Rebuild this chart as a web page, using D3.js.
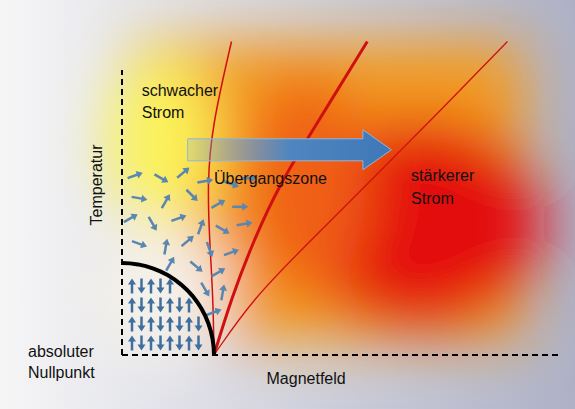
<!DOCTYPE html>
<html><head><meta charset="utf-8">
<script src="https://cdn.jsdelivr.net/npm/d3@7"></script>
<style>body{margin:0}svg{display:block}text{font-family:"Liberation Sans",Arial,sans-serif;font-size:16px;fill:#111}</style>
</head><body><svg id="c" width="575" height="409"></svg>
<script>
// phase boundary curves, [field, temperature] (field 0..10, temperature 0..10)
var curveInner = [[2.1,0],[2.08,2],[2.0,4],[1.95,6],[2.05,8],[2.5,11]];
var curveThick = [[2.1,0],[2.5,2],[3.0,4],[3.6,6],[4.4,8],[5.6,11]];
var curveOuter = [[2.1,0],[3.0,2],[4.3,4],[5.6,6],[6.9,8],[8.8,11]];
var arcPts = d3.range(0,91,5); // degrees of the superconducting boundary
// disordered spins: [field, temperature, angle deg]
var spins = [[0.3,6.3,20],[0.9,6.2,-30],[1.4,6.4,40],[1.9,6.1,10],[2.5,6.0,-20],[2.9,6.2,0],
 [0.4,5.5,-10],[1.0,5.4,60],[1.6,5.6,-45],[2.2,5.3,30],[2.7,5.2,0],
 [0.2,4.8,30],[0.7,4.6,-60],[1.3,4.8,20],[1.8,4.5,70],[2.3,4.4,-30],[2.8,4.6,10],
 [0.4,3.9,-20],[1.0,3.8,80],[1.5,4.0,40],[2.0,3.7,-70],[2.5,3.6,20],
 [1.1,3.2,60],[1.7,3.1,-40],[2.2,2.9,30],[1.9,2.3,-60],[2.3,2.2,80],[2.1,1.5,20]];
var labels = [["schwacher",0.45,9.1],["Strom",0.45,8.3],["Übergangszone",2.1,6.0],
 ["stärkerer",6.6,6.1],["Strom",6.6,5.3]];

var svg = d3.select("#c");
var x = d3.scaleLinear().domain([0,10]).range([122,560]);
var y = d3.scaleLinear().domain([0,10]).range([355,70]);
var defs = svg.append("defs");
var bg = defs.append("linearGradient").attr("id","bg");
bg.append("stop").attr("offset",0).attr("stop-color","#f6f6f7");
bg.append("stop").attr("offset",1).attr("stop-color","#aeb1c6");
defs.append("filter").attr("id","b1").attr("filterUnits","userSpaceOnUse")
 .attr("x",-100).attr("y",-100).attr("width",800).attr("height",600)
 .append("feGaussianBlur").attr("stdDeviation",28);
var ag = defs.append("linearGradient").attr("id","ag");
ag.append("stop").attr("offset",0).attr("stop-color","#7fb0dc").attr("stop-opacity",0.2);
ag.append("stop").attr("offset",0.5).attr("stop-color","#4f86c0");
ag.append("stop").attr("offset",1).attr("stop-color","#3f78b8");

svg.append("rect").attr("width",575).attr("height",409).attr("fill","url(#bg)");
var heat = svg.append("g").attr("filter","url(#b1)");
heat.append("rect").attr("x",x(0.2)).attr("y",y(11)).attr("width",x(9.2)-x(0.2)).attr("height",y(0.5)-y(11)).attr("fill","#f39a1e");
heat.append("ellipse").attr("cx",x(0.9)).attr("cy",y(7.5)).attr("rx",55).attr("ry",90).attr("fill","#fbf25a");
heat.append("ellipse").attr("cx",x(6.8)).attr("cy",y(4.6)).attr("rx",125).attr("ry",105).attr("fill","#e41010");
heat.append("ellipse").attr("cx",x(4.2)).attr("cy",y(6)).attr("rx",60).attr("ry",110).attr("fill","#f06018");
heat.append("ellipse").attr("cx",x(0.8)).attr("cy",y(2.2)).attr("rx",70).attr("ry",70).attr("fill","#f4f1ea");

var line = d3.line().x(d=>x(d[0])).y(d=>y(d[1])).curve(d3.curveBasis);
[[curveInner,1.5],[curveThick,3],[curveOuter,1.3]].forEach(function(c){
 svg.append("path").attr("d",line(c[0])).attr("fill","none").attr("stroke","#d01010").attr("stroke-width",c[1]);});

function arrow(g,cx,cy,ang,len,col){
 var a=ang*Math.PI/180, dx=Math.cos(a)*len/2, dy=-Math.sin(a)*len/2;
 var h=4, ux=Math.cos(a), uy=-Math.sin(a);
 g.append("line").attr("x1",cx-dx).attr("y1",cy-dy).attr("x2",cx+dx-ux*3).attr("y2",cy+dy-uy*3).attr("stroke",col).attr("stroke-width",2.5);
 var tx=cx+dx, ty=cy+dy;
 g.append("path").attr("d","M"+tx+","+ty+"L"+(tx-ux*6-uy*h)+","+(ty-uy*6+ux*h)+"L"+(tx-ux*6+uy*h)+","+(ty-uy*6-ux*h)+"Z").attr("fill",col);
}
var sg = svg.append("g");
spins.forEach(function(s){arrow(sg,x(s[0]),y(s[1]),s[2],16,"#5a86b0");});
// ordered spins inside quarter circle
var R = x(2.1)-x(0);
var cols = d3.range(0,9), rows = d3.range(0,4);
cols.forEach(function(i){rows.forEach(function(j){
 var px=x(0)+10+i*9.5, py=y(0)-12-j*19;
 if(Math.hypot(px-x(0),py-y(0))<R-6) arrow(sg,px,py,(i%2?-90:90),15,"#3f6f9e");});});
svg.append("path").attr("d",d3.line()(arcPts.map(d=>[x(0)+R*Math.sin(d*Math.PI/180),y(0)-R*Math.cos(d*Math.PI/180)]))).attr("fill","none").attr("stroke","#000").attr("stroke-width",4);

// big arrow
var ay=y(7.2);
svg.append("path").attr("d","M"+x(1.5)+","+(ay-11)+"H"+x(5.5)+"V"+(ay-20)+"L"+x(6.15)+","+ay+"L"+x(5.5)+","+(ay+20)+"V"+(ay+11)+"H"+x(1.5)+"Z")
 .attr("fill","url(#ag)").attr("stroke","#8fb6dc").attr("stroke-width",1);

svg.append("line").attr("x1",x(0)).attr("x2",x(0)).attr("y1",y(0)).attr("y2",y(10)).attr("stroke","#000").attr("stroke-width",2).attr("stroke-dasharray","6,4");
svg.append("line").attr("x1",x(0)).attr("x2",x(10)).attr("y1",y(0)).attr("y2",y(0)).attr("stroke","#000").attr("stroke-width",2).attr("stroke-dasharray","6,4");

labels.forEach(function(l){svg.append("text").attr("x",x(l[1])).attr("y",y(l[2])).text(l[0]);});
svg.append("text").attr("transform","translate(102,185) rotate(-90)").attr("text-anchor","middle").text("Temperatur");
svg.append("text").attr("x",28).attr("y",357).text("absoluter");
svg.append("text").attr("x",28).attr("y",378).text("Nullpunkt");
svg.append("text").attr("x",x(3.3)).attr("y",384).text("Magnetfeld");
</script></body></html>
